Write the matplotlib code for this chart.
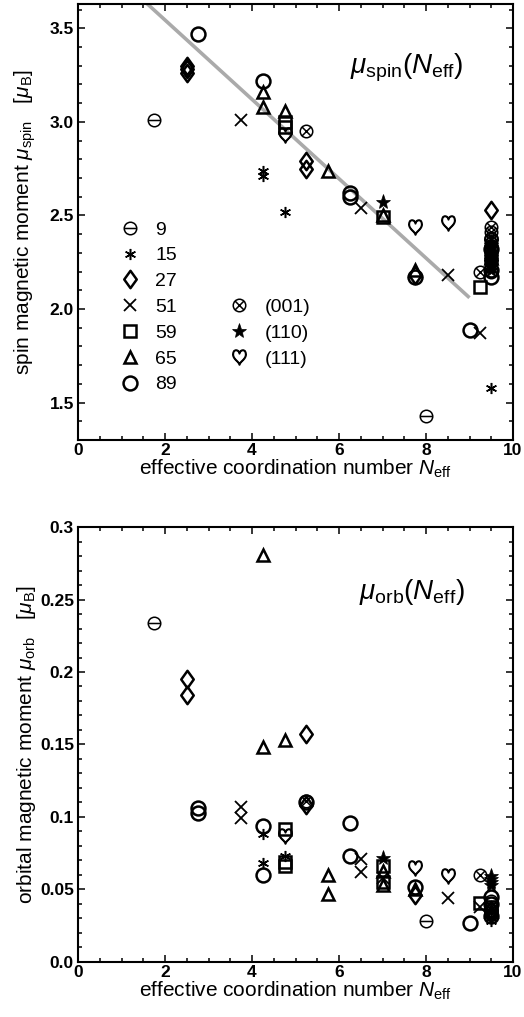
import matplotlib
matplotlib.use('Agg')
import matplotlib.pyplot as plt
from matplotlib.path import Path
from matplotlib.lines import Line2D
from matplotlib.ticker import MultipleLocator

plt.rcParams['font.family'] = ['Liberation Sans', 'DejaVu Sans']
plt.rcParams['mathtext.fontset'] = 'custom'
plt.rcParams['mathtext.rm'] = 'Liberation Sans'
plt.rcParams['mathtext.it'] = 'Liberation Sans:italic'
plt.rcParams['mathtext.bf'] = 'Liberation Sans:bold'

# ---- data: spin moments (upper panel) ----
spin_9_x = [1.75, 8.0, 9.5]
spin_9_y = [3.01, 1.43, 2.20]
spin_15_x = [4.25, 4.25, 4.75, 9.5, 9.5]
spin_15_y = [2.74, 2.71, 2.52, 1.58, 2.24]
spin_27_x = [2.5, 2.5, 2.5, 5.25, 5.25, 7.75, 9.5, 9.5]
spin_27_y = [3.30, 3.28, 3.26, 2.79, 2.75, 2.18, 2.53, 2.26]
spin_51_x = [3.75, 6.5, 8.5, 9.25, 9.5]
spin_51_y = [3.01, 2.54, 2.18, 1.87, 2.30]
spin_59_x = [4.75, 4.75, 7.0, 9.25, 9.5]
spin_59_y = [3.00, 2.97, 2.49, 2.12, 2.28]
spin_65_x = [4.25, 4.25, 4.75, 5.75, 7.0, 7.75, 9.5]
spin_65_y = [3.16, 3.08, 3.06, 2.74, 2.50, 2.21, 2.27]
spin_89_x = [2.75, 4.25, 6.25, 6.25, 7.75, 9.0, 9.5, 9.5, 9.5]
spin_89_y = [3.47, 3.22, 2.62, 2.60, 2.17, 1.89, 2.17, 2.21, 2.32]
spin_001_x = [5.25, 9.25, 9.5, 9.5, 9.5, 9.5]
spin_001_y = [2.95, 2.20, 2.44, 2.41, 2.38, 2.35]
spin_110_x = [7.0, 9.5, 9.5, 9.5, 9.5, 9.5, 9.5, 9.5, 9.5, 9.5, 9.5]
spin_110_y = [2.57, 2.36, 2.34, 2.33, 2.31, 2.30, 2.28, 2.26, 2.25, 2.23, 2.21]
spin_111_x = [4.75, 7.75, 8.5, 9.5, 9.5]
spin_111_y = [2.93, 2.44, 2.46, 2.36, 2.31]

fit_x = [1.5, 9.0]
fit_y = [3.65, 2.06]

# ---- data: orbital moments (lower panel) ----
orb_9_x = [1.75, 8.0, 9.5]
orb_9_y = [0.234, 0.028, 0.042]
orb_15_x = [4.25, 4.25, 4.75, 9.5, 9.5]
orb_15_y = [0.088, 0.068, 0.073, 0.030, 0.028]
orb_27_x = [2.5, 2.5, 5.25, 5.25, 7.75, 9.5]
orb_27_y = [0.195, 0.184, 0.157, 0.108, 0.046, 0.036]
orb_51_x = [3.75, 3.75, 6.5, 6.5, 7.0, 8.5, 9.25, 9.5]
orb_51_y = [0.107, 0.099, 0.071, 0.062, 0.058, 0.044, 0.038, 0.034]
orb_59_x = [4.75, 4.75, 4.75, 7.0, 7.0, 9.25, 9.5]
orb_59_y = [0.092, 0.069, 0.066, 0.066, 0.055, 0.041, 0.038]
orb_65_x = [4.25, 4.25, 4.75, 5.75, 5.75, 7.0, 7.0, 7.75, 9.5]
orb_65_y = [0.281, 0.148, 0.153, 0.060, 0.047, 0.063, 0.053, 0.050, 0.035]
orb_89_x = [2.75, 2.75, 4.25, 4.25, 5.25, 6.25, 6.25, 7.75, 9.0, 9.5, 9.5, 9.5]
orb_89_y = [0.106, 0.103, 0.094, 0.060, 0.110, 0.096, 0.073, 0.052, 0.027, 0.045, 0.040, 0.032]
orb_001_x = [5.25, 9.25, 9.5]
orb_001_y = [0.111, 0.060, 0.036]
orb_110_x = [7.0, 9.5, 9.5, 9.5, 9.5]
orb_110_y = [0.072, 0.059, 0.057, 0.055, 0.053]
orb_111_x = [4.75, 7.75, 8.5, 9.5]
orb_111_y = [0.087, 0.065, 0.059, 0.033]

labels = ['9', '15', '27', '51', '59', '65', '89', '(001)', '(110)', '(111)']
spin_data = [(spin_9_x, spin_9_y), (spin_15_x, spin_15_y), (spin_27_x, spin_27_y),
             (spin_51_x, spin_51_y), (spin_59_x, spin_59_y), (spin_65_x, spin_65_y),
             (spin_89_x, spin_89_y), (spin_001_x, spin_001_y), (spin_110_x, spin_110_y),
             (spin_111_x, spin_111_y)]
orb_data = [(orb_9_x, orb_9_y), (orb_15_x, orb_15_y), (orb_27_x, orb_27_y),
            (orb_51_x, orb_51_y), (orb_59_x, orb_59_y), (orb_65_x, orb_65_y),
            (orb_89_x, orb_89_y), (orb_001_x, orb_001_y), (orb_110_x, orb_110_y),
            (orb_111_x, orb_111_y)]

spin_ticks = [1.5, 2.0, 2.5, 3.0, 3.5]
spin_ticklabels = ['1.5', '2.0', '2.5', '3.0', '3.5']
orb_ticks = [0.0, 0.05, 0.1, 0.15, 0.2, 0.25, 0.3]
orb_ticklabels = ['0.0', '0.05', '0.1', '0.15', '0.2', '0.25', '0.3']
x_ticks = [0, 2, 4, 6, 8, 10]

# marker shapes
d = 0.7071
circ = Path.unit_circle()
bar = Path([(-1, 0), (1, 0)], [Path.MOVETO, Path.LINETO])
cross = Path([(-d, -d), (d, d), (-d, d), (d, -d)],
             [Path.MOVETO, Path.LINETO, Path.MOVETO, Path.LINETO])
ominus = Path.make_compound_path(circ, bar)
otimes = Path.make_compound_path(circ, cross)
diamond = Path([(0, 1), (0.72, 0), (0, -1), (-0.72, 0), (0, 1)],
               [Path.MOVETO, Path.LINETO, Path.LINETO, Path.LINETO, Path.CLOSEPOLY])

styles = [
    dict(marker=ominus, ms=9, mew=1.1, mfc='none'),
    dict(marker=(6, 2, 0), ms=8, mew=1.1),
    dict(marker=diamond, ms=12.5, mew=1.8, mfc='none'),
    dict(marker='x', ms=8, mew=1.3),
    dict(marker='s', ms=9, mew=1.8, mfc='none'),
    dict(marker='^', ms=9, mew=1.8, mfc='none'),
    dict(marker='o', ms=10, mew=1.8, mfc='none'),
    dict(marker=otimes, ms=9, mew=1.1, mfc='none'),
    dict(marker='*', ms=11, mew=0.5),
    dict(marker=r'$\heartsuit$', ms=11, mew=0.9),
]

fig = plt.figure(figsize=(5.24, 10.17), dpi=100)
ax1 = fig.add_axes([0.149, 0.5674, 0.830, 0.4287])
ax2 = fig.add_axes([0.149, 0.0541, 0.830, 0.4277])

ax1.plot(fit_x, fit_y, color='#aaaaaa', lw=2.6, solid_capstyle='butt', zorder=1)

for ax, data in ((ax1, spin_data), (ax2, orb_data)):
    for (xs, ys), st in zip(data, styles):
        ax.plot(xs, ys, linestyle='none', color='k', zorder=3, **st)

for ax in (ax1, ax2):
    ax.set_xlim(0, 10)
    ax.set_xticks(x_ticks)
    ax.xaxis.set_minor_locator(MultipleLocator(0.5))
    ax.tick_params(which='both', direction='in', top=True, right=True, width=1.1)
    ax.tick_params(which='major', length=5)
    ax.tick_params(which='minor', length=3)
    ax.tick_params(axis='x', pad=2)
    ax.tick_params(axis='y', pad=3)
    for sp in ax.spines.values():
        sp.set_linewidth(1.5)
    for t in ax.get_xticklabels():
        t.set_fontweight('bold')
        t.set_fontsize(12.5)
    ax.set_xlabel(r'effective coordination number $N_{\rm eff}$', fontsize=15, labelpad=0)

ax1.set_ylim(1.3, 3.63)
ax1.set_yticks(spin_ticks)
ax1.set_yticklabels(spin_ticklabels, fontsize=12.5, fontweight='bold')
ax1.yaxis.set_minor_locator(MultipleLocator(0.1))
ax1.set_ylabel(r'spin magnetic moment $\mu_{\rm spin}$   [$\mu_{\rm B}$]', fontsize=15)
ax1.yaxis.set_label_coords(-0.092, 0.5)
ax1.text(0.756, 0.853, r'$\mu_{\rm spin}(N_{\rm eff})$', transform=ax1.transAxes,
         fontsize=20, ha='center', va='center')

ax2.set_ylim(0, 0.3)
ax2.set_yticks(orb_ticks)
ax2.set_yticklabels(orb_ticklabels, fontsize=12.5, fontweight='bold')
ax2.yaxis.set_minor_locator(MultipleLocator(0.01))
ax2.set_ylabel(r'orbital magnetic moment $\mu_{\rm orb}$   [$\mu_{\rm B}$]', fontsize=15)
ax2.yaxis.set_label_coords(-0.092, 0.5)
ax2.text(0.768, 0.851, r'$\mu_{\rm orb}(N_{\rm eff})$', transform=ax2.transAxes,
         fontsize=20, ha='center', va='center')

# legend: 7 cluster sizes in first column, surfaces next to 51/59/65
handles = [Line2D([], [], linestyle='none', color='k', **st) for st in styles]
blank = Line2D([], [], linestyle='none', marker='')
leg_handles = handles[:7] + [blank] * 3 + handles[7:] + [blank]
leg_labels = labels[:7] + [''] * 3 + labels[7:] + ['']
ax1.legend(leg_handles, leg_labels, ncol=2, loc='upper left',
           bbox_to_anchor=(0.093, 0.502), frameon=False, fontsize=14,
           borderpad=0, borderaxespad=0, handlelength=1.2, handletextpad=0.7,
           labelspacing=0.42, columnspacing=2.6)

fig.savefig('out.png', dpi=100)
